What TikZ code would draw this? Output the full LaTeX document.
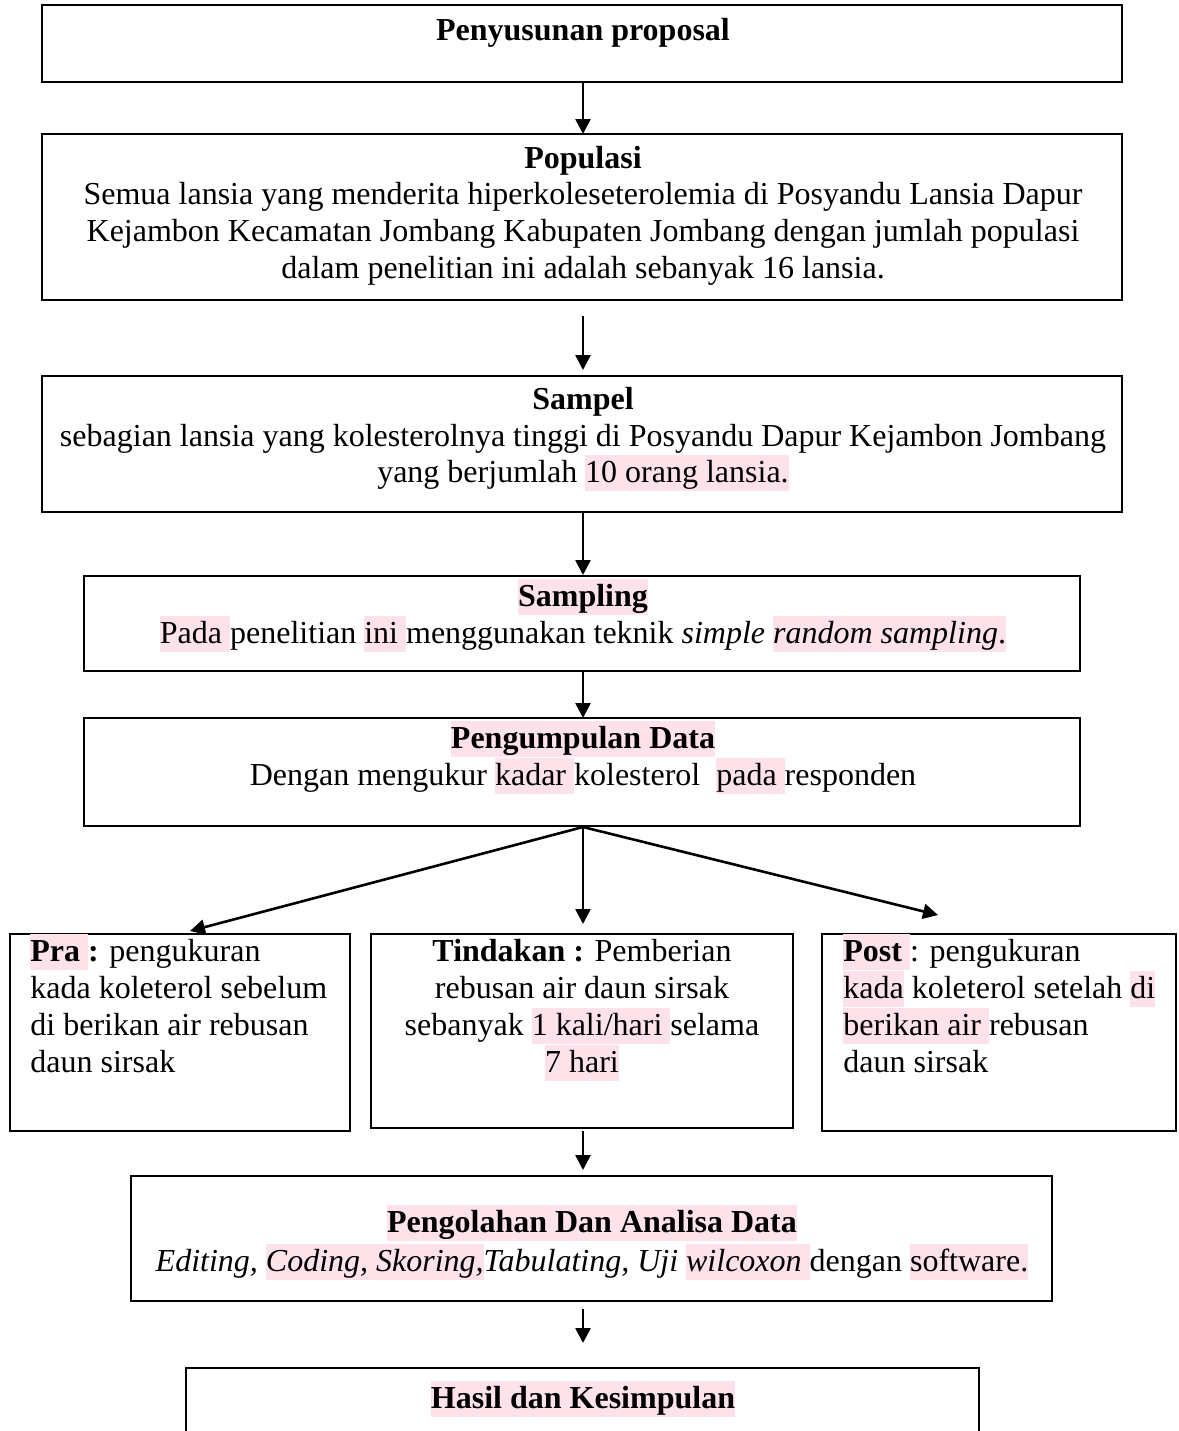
\documentclass[tikz,border=0pt]{standalone}
\usepackage{fontspec}
\setmainfont{Liberation Serif}
\usetikzlibrary{arrows.meta,fit}
\definecolor{hlpink}{RGB}{253,226,234}
\newcommand{\hlt}[1]{{\setlength{\fboxsep}{0pt}\colorbox{hlpink}{\rule[-0.27em]{0pt}{1.12em}#1}}}
\begin{document}
\begin{tikzpicture}[x=0.5pt,y=-0.5pt,
  box/.style={draw,line width=1pt,inner sep=0pt},
  txt/.style={anchor=base,inner sep=0pt,font=\fontsize{16}{18.5}\selectfont},
  ltxt/.style={anchor=base west,inner sep=0pt,font=\fontsize{16}{18.5}\selectfont},
  arr/.style={-{Triangle[width=7.5pt,length=7.5pt]},line width=1.3pt}]
\useasboundingbox (0,0) rectangle (1179,1431);
\clip (0,0) rectangle (1179,1431);
\fill[white] (0,0) rectangle (1179,1431);

% boxes
\node[box,fit={(42,5)(1122,82)}] (b1) {};
\node[box,fit={(42,134)(1122,300)}] (b2) {};
\node[box,fit={(42,376)(1122,512)}] (b3) {};
\node[box,fit={(84,576)(1080,671)}] (b4) {};
\node[box,fit={(84,718)(1080,826)}] (b5) {};
\node[box,fit={(10,934)(350,1131)}] (b6a) {};
\node[box,fit={(371,934)(793,1128)}] (b6b) {};
\node[box,fit={(822,934)(1176,1131)}] (b6c) {};
\node[box,fit={(131,1176)(1052,1301)}] (b7) {};
\node[box,fit={(186,1368)(979,1520)}] (b8) {};

% texts
\node[txt] (t1) at (583,40) {\textbf{Penyusunan proposal}};

\node[txt] (t2a) at (583,168) {\textbf{Populasi}};
\node[txt] (t2b) at (583,204) {Semua lansia yang menderita hiperkoleseterolemia di Posyandu Lansia Dapur};
\node[txt] (t2c) at (583,241) {Kejambon Kecamatan Jombang Kabupaten Jombang dengan jumlah populasi};
\node[txt] (t2d) at (583,278) {dalam penelitian ini adalah sebanyak 16 lansia.};

\node[txt] (t3a) at (583,409) {\textbf{Sampel}};
\node[txt] (t3b) at (583,446) {sebagian lansia yang kolesterolnya tinggi di Posyandu Dapur Kejambon Jombang};
\node[txt] (t3c) at (583,482) {yang berjumlah \hlt{10 orang lansia.}};

\node[txt] (t4a) at (583,606) {\hlt{\textbf{Sampling}}};
\node[txt] (t4b) at (583,643) {\hlt{Pada }penelitian \hlt{ini }menggunakan teknik \textit{simple }\hlt{\textit{random sampling}.}};

\node[txt] (t5a) at (583,748) {\hlt{\textbf{Pengumpulan Data}}};
\node[txt] (t5b) at (583,785) {Dengan mengukur \hlt{kadar }kolesterol\ \ \hlt{pada }responden};

\node[ltxt] (t6a1) at (30,961) {\hlt{\textbf{Pra }}\textbf{:} pengukuran};
\node[ltxt] (t6a2) at (30,998) {kada koleterol sebelum};
\node[ltxt] (t6a3) at (30,1035) {di berikan air rebusan};
\node[ltxt] (t6a4) at (30,1072) {daun sirsak};

\node[txt] (t6b1) at (582,961) {\textbf{Tindakan :} Pemberian};
\node[txt] (t6b2) at (582,998) {rebusan air daun sirsak};
\node[txt] (t6b3) at (582,1035) {sebanyak \hlt{1 kali/hari }selama};
\node[txt] (t6b4) at (582,1072) {\hlt{7 hari}};

\node[ltxt] (t6c1) at (843,961) {\hlt{\textbf{Post} }: pengukuran};
\node[ltxt] (t6c2) at (843,998) {\hlt{kada} koleterol setelah \hlt{di}};
\node[ltxt] (t6c3) at (843,1035) {\hlt{berikan air }rebusan};
\node[ltxt] (t6c4) at (843,1072) {daun sirsak};

\node[txt] (t7a) at (592,1232) {\hlt{\textbf{Pengolahan Dan Analisa Data}}};
\node[txt] (t7b) at (592,1271) {\textit{Editing, \hlt{Coding, Skoring,}Tabulating, Uji \hlt{wilcoxon }}dengan \hlt{software.}};

\node[txt] (t8) at (583,1408) {\hlt{\textbf{Hasil dan Kesimpulan}}};

% connectors
\coordinate (a2s) at (583,316);
\coordinate (a2e) at (583,370);
\coordinate (c5) at (583,827);
\coordinate (pra) at (190,931);
\coordinate (tin) at (583,924);
\coordinate (pos) at (938,915);
\coordinate (a6s) at (583,1131);
\coordinate (a6e) at (583,1170);
\coordinate (a7s) at (583,1309);
\coordinate (a7e) at (583,1343);

\draw[arr] (583,82) coordinate (a1s) -- (583,134) coordinate (a1e);
\draw[arr] (a2s) -- (a2e);
\draw[arr] (583,512) coordinate (a3s) -- (583,575) coordinate (a3e);
\draw[arr] (583,671) coordinate (a4s) -- (583,718) coordinate (a4e);
\draw[arr] (c5) -- (pra);
\draw[arr] (c5) -- (tin);
\draw[arr] (c5) -- (pos);
\draw[arr] (a6s) -- (a6e);
\draw[arr] (a7s) -- (a7e);
\end{tikzpicture}
\end{document}
